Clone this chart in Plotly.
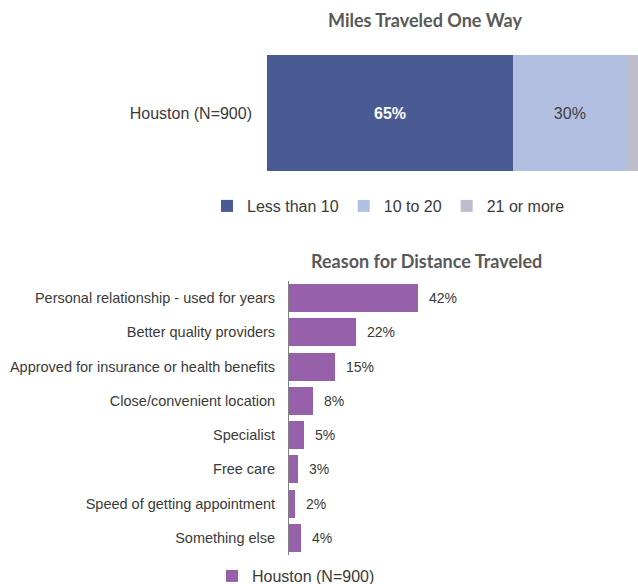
import plotly.graph_objects as go

W, H = 638, 584

# ---- data ----
top_category = ["Houston (N=900)"]
top_series = ["Less than 10", "10 to 20", "21 or more"]
top_values = [65, 30, 5]
top_colors = ["#4A5B94", "#B1BFE1", "#BDBDCB"]
top_text_colors = ["white", "#404040", "#404040"]
top_text_bold = [True, False, False]

reasons = [
    "Personal relationship - used for years",
    "Better quality providers",
    "Approved for insurance or health benefits",
    "Close/convenient location",
    "Specialist",
    "Free care",
    "Speed of getting appointment",
    "Something else",
]
reason_values = [42, 22, 15, 8, 5, 3, 2, 4]
bottom_series = "Houston (N=900)"
bottom_color = "#9660AB"

FONT = "Liberation Sans, Arial, sans-serif"
TITLE_FONT = "Lato, sans-serif"
TXT = "#3a3a3a"

def px_x(p):
    return p / W

def px_y(p):
    return 1 - p / H

fig = go.Figure()

for name, val, col, tc, bold in zip(top_series, top_values, top_colors, top_text_colors, top_text_bold):
    label = f"{val}%" if val >= 10 else ""
    if bold and label:
        label = f"<b>{label}</b>"
    fig.add_trace(go.Bar(
        x=[val], y=top_category, orientation="h", name=name,
        marker=dict(color=col, line=dict(width=0)),
        text=[label], textposition="inside", insidetextanchor="middle",
        textfont=dict(color=tc, size=16, family=FONT),
        width=1, xaxis="x", yaxis="y", legend="legend",
        hoverinfo="skip",
    ))

fig.add_trace(go.Bar(
    x=reason_values, y=reasons, orientation="h", name=bottom_series,
    marker=dict(color=bottom_color, line=dict(width=0)),
    width=0.82, xaxis="x2", yaxis="y2", legend="legend2",
    hoverinfo="skip",
))

annotations = []
for r, v in zip(reasons, reason_values):
    annotations.append(dict(
        x=v, y=r, xref="x2", yref="y2", text=f"{v}%", showarrow=False,
        xanchor="left", xshift=9, font=dict(size=14, family=FONT, color=TXT),
    ))

annotations.append(dict(
    x=px_x(425), y=px_y(20), xref="paper", yref="paper",
    text="<b>Miles Traveled One Way</b>", showarrow=False,
    font=dict(size=18, family=TITLE_FONT, color="#595959"),
    xanchor="center", yanchor="middle",
))
annotations.append(dict(
    x=px_x(426), y=px_y(261), xref="paper", yref="paper",
    text="<b>Reason for Distance Traveled</b>", showarrow=False,
    font=dict(size=18, family=TITLE_FONT, color="#595959"),
    xanchor="center", yanchor="middle",
))

fig.update_layout(
    width=W, height=H,
    margin=dict(l=0, r=0, t=0, b=0, autoexpand=False),
    paper_bgcolor="white", plot_bgcolor="white",
    barmode="stack",
    font=dict(family=FONT, size=14, color=TXT),
    xaxis=dict(domain=[px_x(267), 1], range=[0, 98], visible=False, fixedrange=True),
    yaxis=dict(domain=[px_y(171), px_y(55)], range=[-0.5, 0.5], showline=False,
               ticks="", showgrid=False, ticklabelstandoff=14,
               tickfont=dict(size=16, family=FONT, color=TXT)),
    xaxis2=dict(domain=[px_x(289), 1], range=[0, 114], visible=False, anchor="y2"),
    yaxis2=dict(domain=[px_y(555), px_y(281)], anchor="x2",
                categoryorder="array", categoryarray=reasons, autorange="reversed",
                showline=True, linecolor="#808080", linewidth=1,
                ticks="", showgrid=False, ticklabelstandoff=10,
                tickfont=dict(size=14.5, family=FONT, color=TXT)),
    legend=dict(orientation="h", x=px_x(207), y=px_y(206), xanchor="left", yanchor="middle",
                font=dict(size=16, family=FONT, color=TXT), traceorder="normal",
                itemclick=False),
    legend2=dict(orientation="h", x=px_x(212), y=px_y(576), xanchor="left", yanchor="middle",
                 font=dict(size=16, family=FONT, color=TXT), itemclick=False),
    annotations=annotations,
    showlegend=True,
)

fig.write_html("out.html", config={"displayModeBar": False},
               post_script="document.body.style.margin='0';")
